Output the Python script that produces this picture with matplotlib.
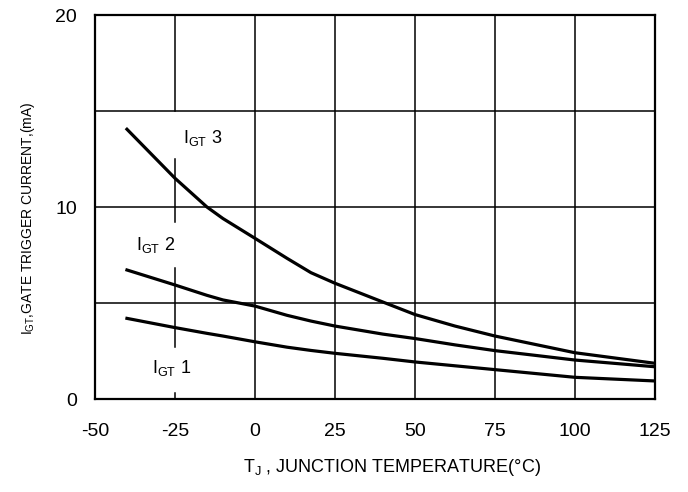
import matplotlib
matplotlib.use('Agg')
import matplotlib.pyplot as plt

plt.rcParams['font.family'] = ['Liberation Sans', 'DejaVu Sans']
plt.rcParams['mathtext.default'] = 'regular'
plt.rcParams['axes.unicode_minus'] = False

# junction temperature (C) and gate trigger currents (mA)
temp = [-40, -25, -15, -10, 0, 10, 17.5, 25, 40, 50, 62.5, 75, 100, 125]
igt3 = [14.05, 11.5, 10.0, 9.4, 8.37, 7.33, 6.58, 6.03, 5.05, 4.4, 3.8, 3.28, 2.41, 1.86]
igt2 = [6.72, 5.94, 5.4, 5.16, 4.84, 4.36, 4.06, 3.8, 3.38, 3.15, 2.82, 2.52, 2.03, 1.68]
igt1 = [4.2, 3.72, 3.42, 3.28, 2.98, 2.7, 2.53, 2.38, 2.12, 1.93, 1.73, 1.53, 1.13, 0.94]

xticks = [-50, -25, 0, 25, 50, 75, 100, 125]
yticks = [0, 10, 20]

fig = plt.figure(figsize=(6.88, 4.92), dpi=100)
ax = fig.add_axes([0.138, 0.189, 0.814, 0.7805])

# grid
for x in [0, 25, 50, 75, 100]:
    ax.axvline(x, color='black', lw=1.1, zorder=1)
for y in [5, 10, 15]:
    ax.axhline(y, color='black', lw=1.1, zorder=1)
# broken gridline at -25 (gaps around the labels)
for y0, y1 in [(15, 20), (9.22, 12.5), (2.71, 6.82), (0, 0.31)]:
    ax.plot([-25, -25], [y0, y1], color='black', lw=1.1, zorder=1)

for vals in [igt3, igt2, igt1]:
    ax.plot(temp, vals, color='black', lw=2.3, zorder=3, solid_joinstyle='round')

ax.text(-22.5, 13.6, 'I$_{GT}$ 3', fontsize=13, va='center', ha='left')
ax.text(-37.2, 8.0, 'I$_{GT}$ 2', fontsize=13, va='center', ha='left')
ax.text(-32.3, 1.59, 'I$_{GT}$ 1', fontsize=13, va='center', ha='left')

ax.set_xlim(-50, 125)
ax.set_ylim(0, 20)
ax.set_xticks(xticks)
ax.set_yticks(yticks)
ax.tick_params(length=0, labelsize=14)
ax.tick_params(axis='x', pad=17)
ax.tick_params(axis='y', pad=13)
for s in ax.spines.values():
    s.set_linewidth(1.6)

ax.set_xlabel('T$_J$ , JUNCTION TEMPERATURE(°C)', fontsize=13)
ax.xaxis.set_label_coords(0.53, -0.151)
ax.set_ylabel('I$_{GT}$,GATE TRIGGER CURRENT,(mA)', fontsize=10)
ax.yaxis.set_label_coords(-0.1036, 0.471)

fig.savefig('out.png', dpi=100)
